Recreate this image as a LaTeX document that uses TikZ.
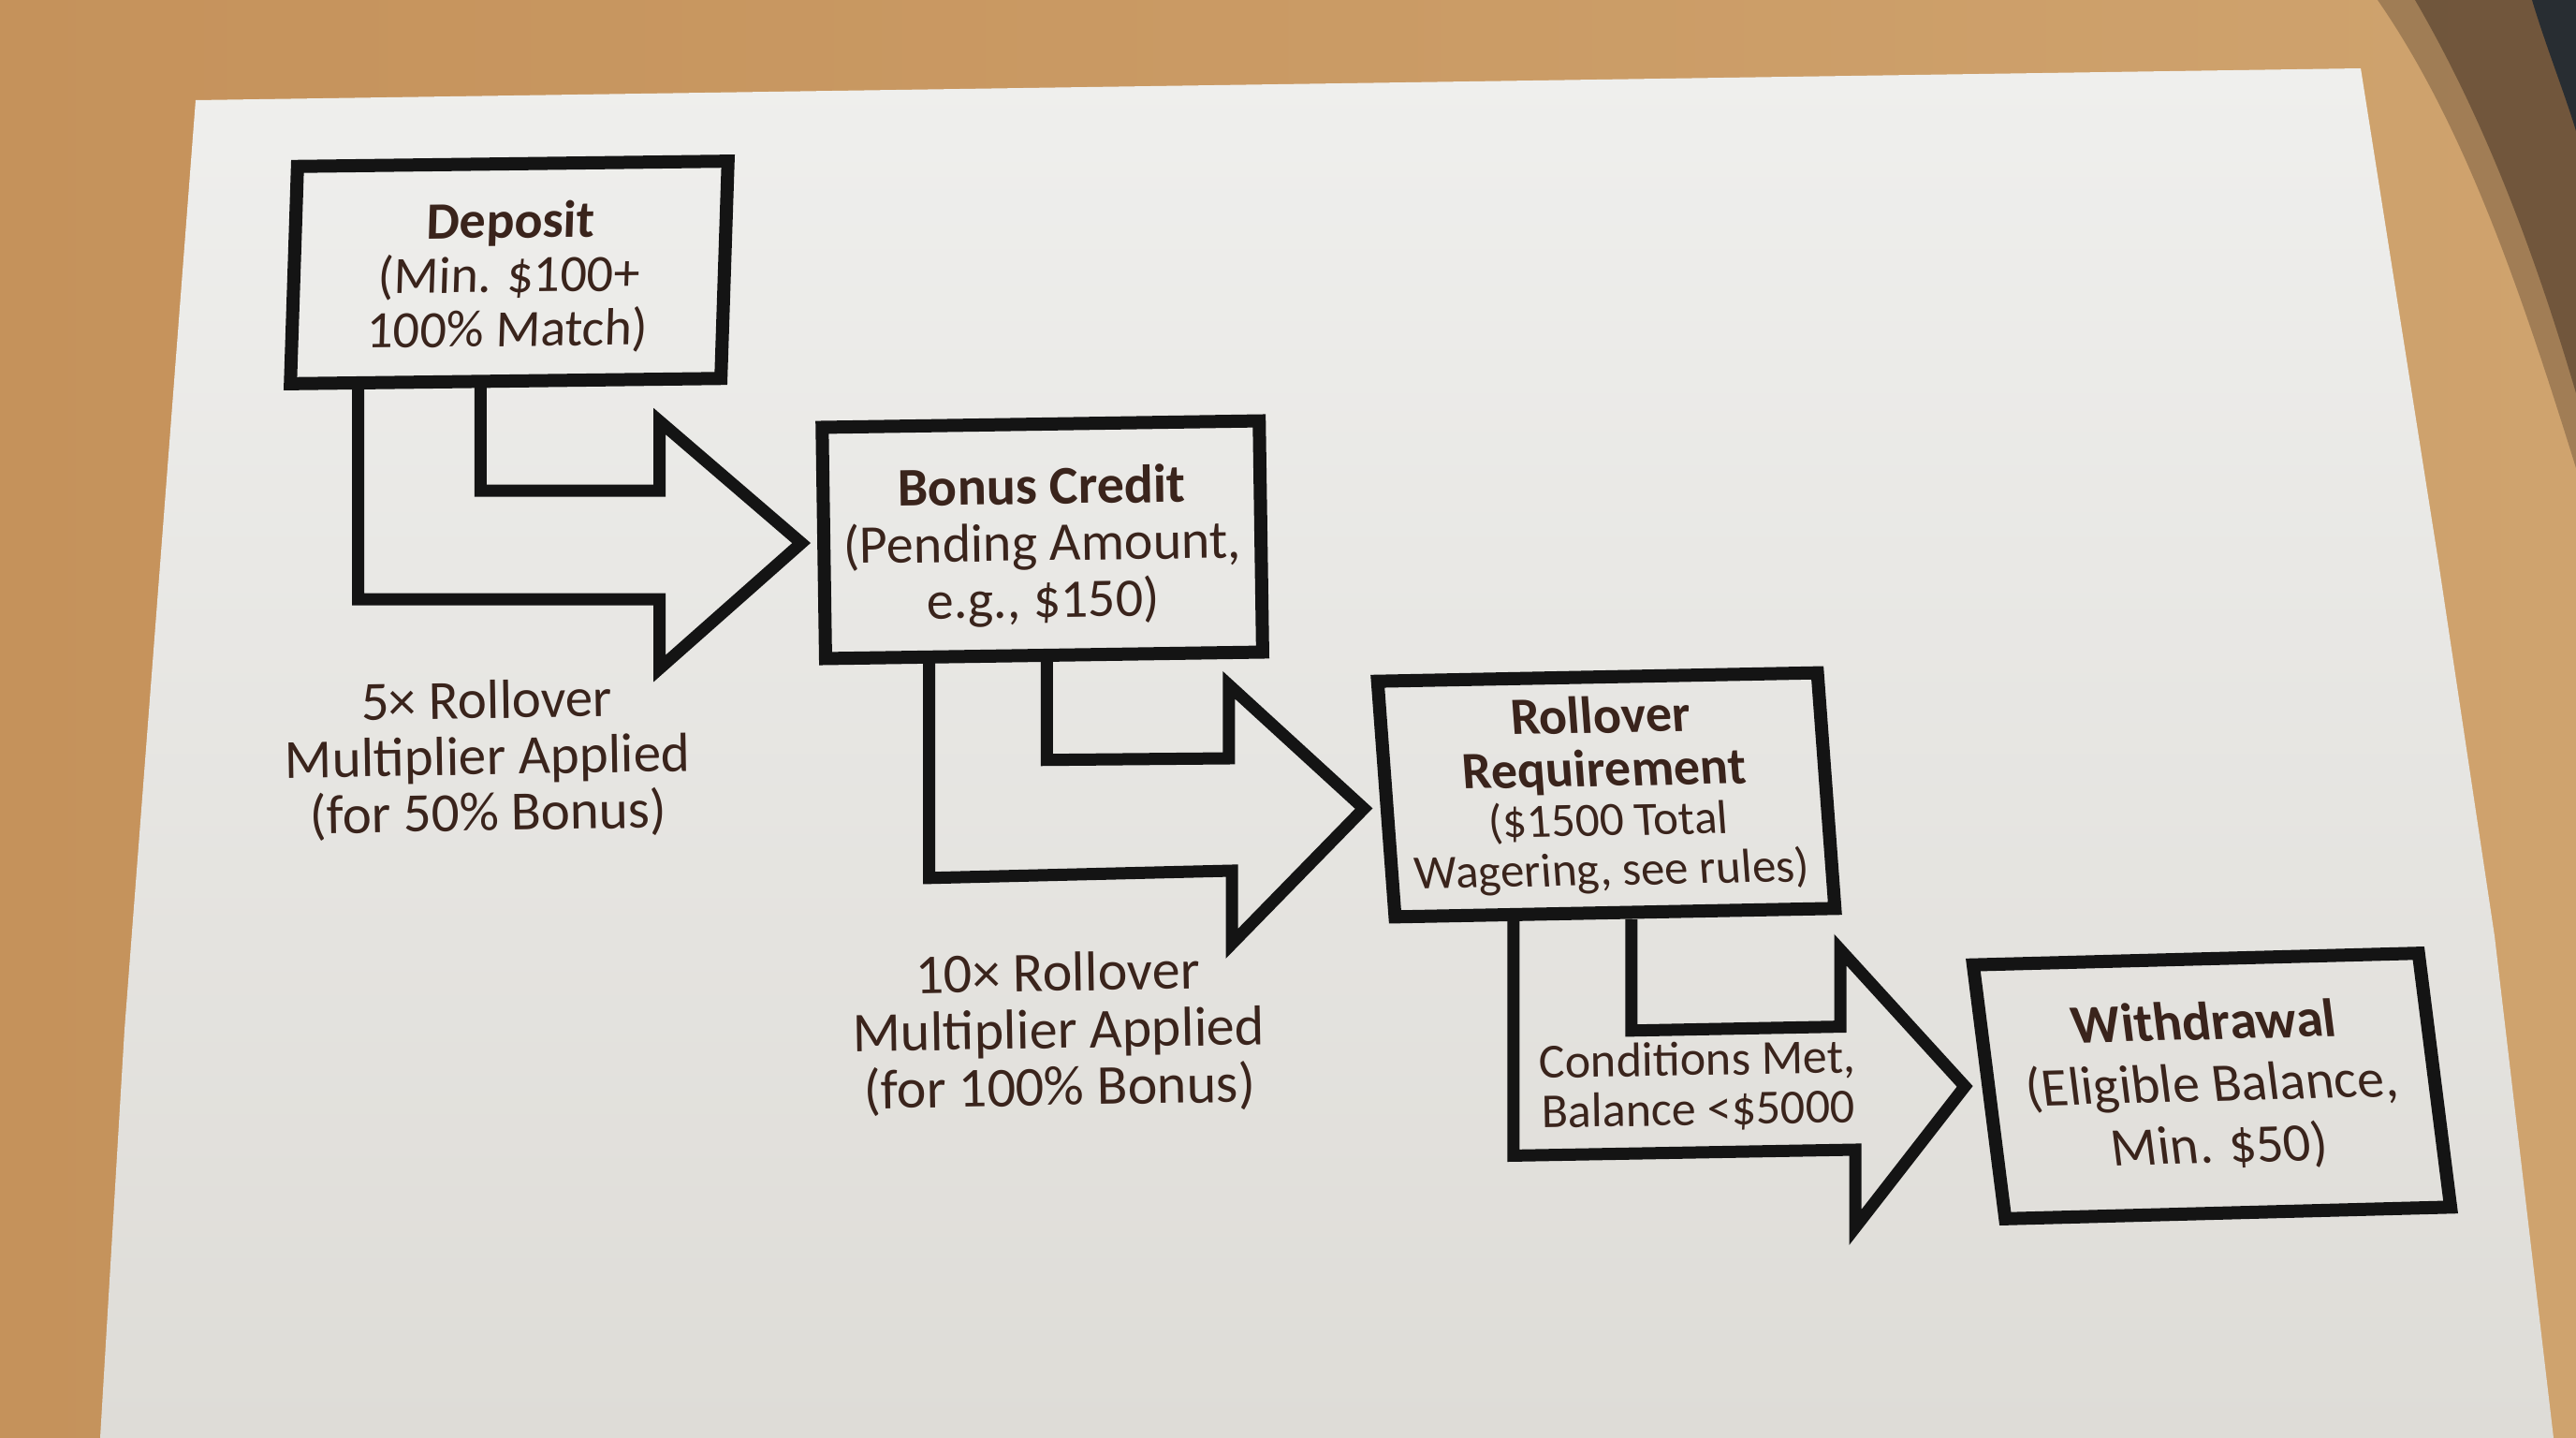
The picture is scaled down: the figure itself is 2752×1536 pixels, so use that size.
\documentclass[tikz,border=0pt]{standalone}
\usepackage{fontspec}
\setmainfont{Carlito}
\definecolor{wood}{RGB}{197,146,91}
\definecolor{woodlight}{RGB}{207,163,110}
\definecolor{paperc}{RGB}{239,239,237}
\definecolor{paperdark}{RGB}{222,220,215}
\definecolor{ink}{RGB}{20,20,20}
\definecolor{txt}{RGB}{58,36,28}
\definecolor{darkobj}{RGB}{40,45,50}
\definecolor{shadowc}{RGB}{55,40,30}
\begin{document}
\begin{tikzpicture}[x=1pt,y=-1pt,
  box/.style={draw=ink, line width=14pt, inner sep=0pt, align=center, text=txt},
  flow/.style={draw=ink, line width=13pt, line join=miter},
  lbl/.style={inner sep=0pt, align=center, text=txt}]
\useasboundingbox (0,0) rectangle (2752,1536);
% table
\shade[left color=wood, right color=woodlight] (0,0) rectangle (2752,1536);
\fill[shadowc, opacity=0.3] (2540,0) .. controls (2630,130) and (2690,300) .. (2752,500) -- (2752,0) -- cycle;
\fill[shadowc, opacity=0.45] (2580,0) .. controls (2650,120) and (2705,260) .. (2752,420) -- (2752,0) -- cycle;
\fill[darkobj] (2705,0) .. controls (2720,50) and (2740,100) .. (2752,140) -- (2752,0) -- cycle;
% paper
\shade[top color=paperc, bottom color=paperdark] (209,107) -- (2522,73) -- (2605,600) -- (2665,1000) -- (2728,1536) -- (107,1536) -- (133,1100) -- cycle;
% boxes
\node[box, minimum width=460pt, minimum height=232pt, rotate=0.7, xslant=0.045,
      font=\fontsize{56}{58}\selectfont] (dep) at (544,291)
  {\rule{0pt}{50pt}{\bfseries Deposit}\\(Min. \$100+\\100\% Match)};
\node[box, minimum width=467pt, minimum height=247pt, rotate=0.85,
      font=\fontsize{58}{60.5}\selectfont] (bon) at (1113.6,576.5)
  {\rule{0pt}{55pt}{\bfseries Bonus Credit}\\(Pending Amount,\\e.g., \$150)};
\node[box, minimum width=470pt, minimum height=252pt, rotate=1.1, xslant=-0.055,
      font=\fontsize{56}{57}\selectfont] (rol) at (1716,849)
  {{\bfseries Rollover}\\{\bfseries Requirement}\\[-4pt]{\fontsize{51}{50}\selectfont (\$1500 Total}\\[-4pt]{\fontsize{51}{50}\selectfont Wagering, see rules)}};
\node[box, minimum width=476pt, minimum height=272pt, rotate=1.5, xslant=-0.1,
      font=\fontsize{58}{66}\selectfont] (wd) at (2363,1160)
  {{\bfseries Withdrawal}\\(Eligible Balance,\\Min. \$50)};
% labels
\node[lbl, rotate=1, font=\fontsize{59}{60}\selectfont] (l1) at (521,811)
  {5× Rollover\\Multiplier Applied\\(for 50\% Bonus)};
\node[lbl, rotate=1, font=\fontsize{60}{61}\selectfont] (l2) at (1131,1103)
  {10× Rollover\\Multiplier Applied\\(for 100\% Bonus)};
\node[lbl, rotate=1, font=\fontsize{52}{53}\selectfont] (l3) at (1814,1160)
  {Conditions Met,\\Balance <\$5000};
% bent block arrows
\draw[flow] (382.6,0 |- dep.south) -- (382.6,640) -- (704.7,640) -- (704.7,714)
  -- ([xshift=-17pt]bon.west) -- (704.7,450) -- (704.7,524) -- (513.4,524) -- (513.4,0 |- dep.south);
\draw[flow] (992.5,0 |- bon.south) -- (992.5,937.8) -- (1316,930) -- (1316,1008)
  -- ([xshift=-17pt,yshift=-10pt]rol.west) -- (1312.8,731.7) -- (1312.8,810) -- (1118.4,811.7) -- (1118.4,0 |- bon.south);
\draw[flow] (1616.8,0 |- rol.south) -- (1616.8,1234.4) -- (1982,1228) -- (1982,1311)
  -- ([xshift=-19pt,yshift=6pt]wd.west) -- (1966,1014.5) -- (1966,1096.6) -- (1742.8,1100.8) -- (1742.8,0 |- rol.south);
\end{tikzpicture}
\end{document}
